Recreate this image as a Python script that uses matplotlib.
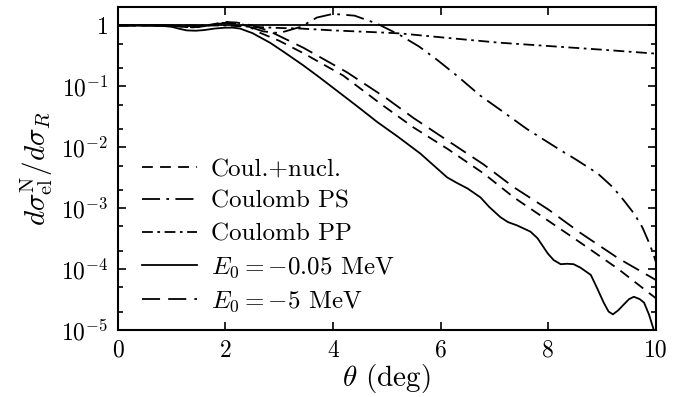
import matplotlib
matplotlib.use('Agg')
import matplotlib.pyplot as plt
from matplotlib.ticker import LogLocator, FixedLocator, NullFormatter

# Coul.+nucl.
theta_cn = [0, 0.5, 1.0, 1.4, 1.7, 2.0, 2.2, 2.45, 2.64, 3.0, 3.45, 4.19, 4.88, 5.5, 6.12, 6.8, 7.36, 8.0, 8.6, 9.3, 10.0]
sig_cn = [1.0, 1.0, 0.99, 0.93, 1.02, 1.15, 1.1, 0.95, 0.76, 0.56, 0.35, 0.15, 0.052, 0.021, 0.0095, 0.0037, 0.0015, 0.00062, 0.00027, 0.0001, 0.000033]

# Coulomb PS
theta_ps = [0, 1.0, 1.5, 2.0, 2.3, 2.7, 3.0, 3.4, 3.7, 4.0, 4.4, 4.82, 5.25, 5.6, 5.94, 6.3, 6.74, 7.11, 7.6, 8.23,
            8.5, 8.92, 9.2, 9.4, 9.6, 9.75, 9.85, 9.95, 10.0]
sig_ps = [1.0, 1.0, 0.97, 1.1, 1.05, 0.8, 0.75, 0.95, 1.35, 1.55, 1.45, 1.07, 0.69, 0.45, 0.27, 0.15, 0.07, 0.041, 0.02, 0.0089,
          0.0064, 0.0037, 0.0022, 0.00135, 0.0008, 0.00048, 0.0003, 0.00018, 0.00013]

# Coulomb PP
theta_pp = [0, 1.0, 2.0, 2.5, 3.0, 3.4, 4.0, 5.0, 5.25, 6.0, 7.0, 7.11, 8.0, 9.0, 9.9, 10.0]
sig_pp = [1.0, 1.0, 1.0, 0.95, 0.91, 0.89, 0.83, 0.76, 0.74, 0.64, 0.53, 0.52, 0.46, 0.4, 0.35, 0.345]

# E0 = -0.05 MeV
theta_e1 = [0, 0.5, 0.8, 1.0, 1.15, 1.28, 1.45, 1.6, 1.8, 2.0, 2.15, 2.27, 2.5, 2.83, 3.1, 3.45, 3.75, 4.07,
            4.45, 4.82, 5.2, 5.62, 6.12, 6.3, 6.5, 6.74, 6.9, 7.11, 7.25, 7.42, 7.55, 7.67, 7.8, 7.99, 8.1,
            8.23, 8.35, 8.47, 8.6, 8.79, 8.9, 9.03, 9.12, 9.2, 9.3, 9.4, 9.5, 9.59, 9.7, 9.78, 9.87, 9.96, 10.0]
sig_e1 = [1.0, 1.0, 0.99, 0.95, 0.88, 0.83, 0.82, 0.84, 0.89, 0.92, 0.92, 0.89, 0.75, 0.52, 0.36, 0.22, 0.14, 0.085,
          0.047, 0.026, 0.015, 0.0079, 0.0032, 0.0026, 0.0021, 0.0015, 0.00105, 0.00071, 0.00059, 0.00052, 0.00046, 0.00041, 0.00032, 0.00018, 0.00014,
          0.00012, 0.000122, 0.00012, 0.000105, 0.00008, 0.00005, 0.000028, 0.00002, 0.000018, 0.000021, 0.000026, 0.000032, 0.000035, 0.000032, 0.000028, 0.000018, 0.00001, 0.000006]

# E0 = -5 MeV
theta_e5 = [0, 0.5, 1.0, 1.4, 1.7, 1.95, 2.2, 2.5, 2.8, 3.45, 4.26, 5.0, 5.5, 6.12, 6.8, 7.36, 8.0, 8.6, 9.3, 10.0]
sig_e5 = [1.0, 1.0, 0.99, 0.92, 1.0, 1.1, 1.12, 1.0, 0.82, 0.43, 0.17, 0.063, 0.03, 0.013, 0.0052, 0.0022, 0.00095, 0.00039, 0.00015, 0.000066]

y_ticks = [1e-5, 1e-4, 1e-3, 1e-2, 1e-1, 1]
y_labels = [r'$10^{-5}$', r'$10^{-4}$', r'$10^{-3}$', r'$10^{-2}$', r'$10^{-1}$', r'$1$']
x_ticks = [0, 2, 4, 6, 8, 10]

plt.rcParams['font.family'] = 'serif'
plt.rcParams['font.serif'] = ['cmr10']
plt.rcParams['mathtext.fontset'] = 'cm'
plt.rcParams['axes.unicode_minus'] = False

fig = plt.figure(figsize=(6.89, 3.97), dpi=100)
ax = fig.add_axes([0.171, 0.169, 0.781, 0.813])

lw = 1.3
ax.axhline(1.0, color='black', lw=lw)
ax.plot(theta_cn, sig_cn, color='black', lw=lw, dashes=(6, 4), label='Coul.+nucl.')
ax.plot(theta_ps, sig_ps, color='black', lw=lw, dashes=(10, 3.5, 1.5, 3.5), label='Coulomb PS')
ax.plot(theta_pp, sig_pp, color='black', lw=lw, dashes=(6, 2.5, 1.5, 2.5), label='Coulomb PP')
ax.plot(theta_e1, sig_e1, color='black', lw=lw, label=r'$E_0=-0.05$ MeV')
ax.plot(theta_e5, sig_e5, color='black', lw=lw, dashes=(10, 4.5), label=r'$E_0=-5$ MeV')

ax.set_yscale('log')
ax.set_xlim(0, 10)
ax.set_ylim(1e-5, 2)
ax.yaxis.set_major_locator(FixedLocator(y_ticks))
ax.set_yticklabels(y_labels)
ax.yaxis.set_minor_locator(LogLocator(base=10, subs=(2, 5)))
ax.yaxis.set_minor_formatter(NullFormatter())
ax.set_xticks(x_ticks)
ax.set_xticklabels([str(t) for t in x_ticks])

ax.tick_params(which='both', direction='in', top=True, right=True, labelsize=17, width=1.2)
ax.tick_params(which='major', length=6, pad=7)
ax.tick_params(which='minor', length=3.5)
for s in ax.spines.values():
    s.set_linewidth(1.5)

ax.set_xlabel(r'$\theta$ (deg)', fontsize=21, labelpad=0)
ax.set_ylabel(r'$d\sigma_{\mathrm{el}}^{\mathrm{N}}/d\sigma_R$', fontsize=21, labelpad=4)

ax.legend(loc='lower left', bbox_to_anchor=(0.026, 0.017), borderaxespad=0, frameon=False, fontsize=18,
          handlelength=2.2, labelspacing=0.4, handletextpad=0.55)

fig.savefig('out.png', dpi=100)
